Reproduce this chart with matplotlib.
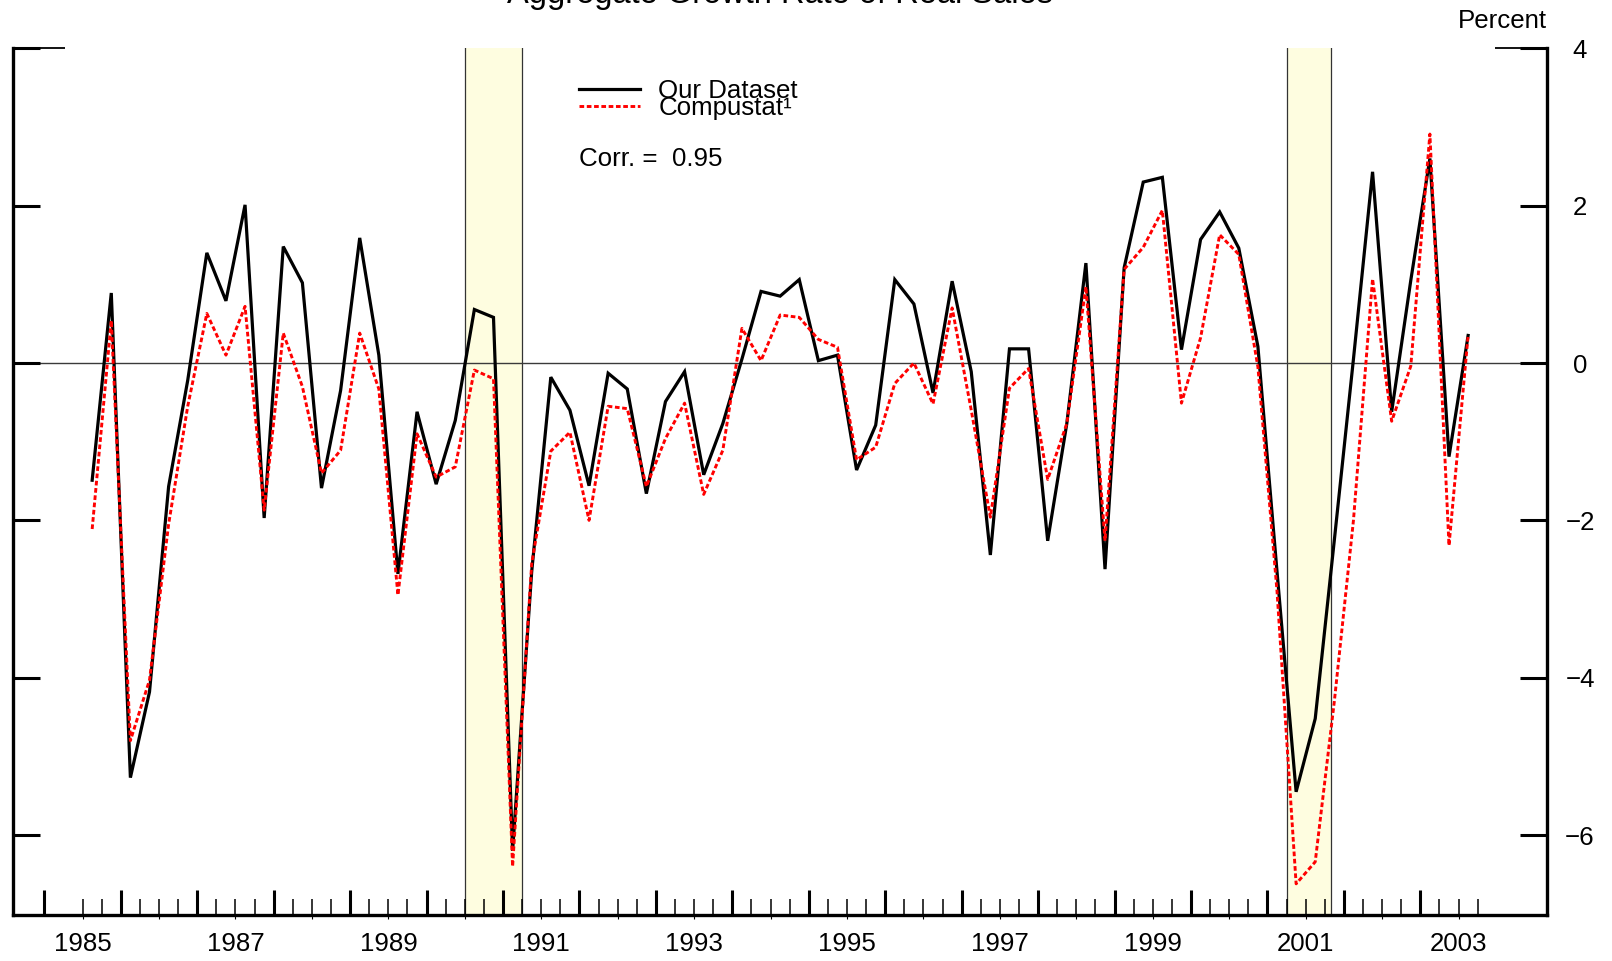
import matplotlib
matplotlib.use("Agg")
import matplotlib.pyplot as plt
from matplotlib.ticker import FixedLocator, FixedFormatter, NullFormatter
import numpy as np
import pandas as pd

plt.rcParams['font.family'] = ['Liberation Sans', 'DejaVu Sans']

# ---------------- data ----------------
start_quarter = "1985Q3"
our_dataset = [-1.49, 0.89, -5.27, -4.18, -1.57, -0.22, 1.40, 0.79, 2.01, -1.97,
               1.48, 1.02, -1.59, -0.35, 1.59, 0.10, -2.68, -0.62, -1.54, -0.73,
               0.68, 0.58, -6.20, -2.65, -0.18, -0.60, -1.56, -0.13, -0.33, -1.66,
               -0.49, -0.11, -1.42, -0.77, 0.05, 0.91, 0.85, 1.06, 0.03, 0.10,
               -1.36, -0.79, 1.06, 0.75, -0.38, 1.04, -0.11, -2.44, 0.18, 0.18,
               -2.26, -0.77, 1.27, -2.62, 1.21, 2.30, 2.36, 0.17, 1.57, 1.92,
               1.46, 0.21, -2.65, -5.45, -4.52, -2.25, 0.05, 2.43, -0.62, 1.05,
               2.60, -1.19, 0.35]
compustat = [-2.11, 0.54, -4.80, -4.03, -2.05, -0.55, 0.63, 0.10, 0.72, -1.87,
             0.38, -0.30, -1.40, -1.11, 0.38, -0.33, -2.95, -0.90, -1.45, -1.32,
             -0.09, -0.20, -6.40, -2.55, -1.12, -0.88, -2.00, -0.55, -0.58, -1.57,
             -0.96, -0.51, -1.67, -1.11, 0.44, 0.03, 0.61, 0.58, 0.30, 0.20,
             -1.23, -1.07, -0.26, 0.00, -0.52, 0.70, -0.60, -1.96, -0.32, -0.07,
             -1.48, -0.77, 0.97, -2.26, 1.19, 1.47, 1.94, -0.51, 0.32, 1.63,
             1.38, -0.05, -2.90, -6.62, -6.34, -4.30, -2.00, 1.07, -0.74, -0.04,
             2.91, -2.32, 0.35]
recession_start = [1990.5, 2001.25]
recession_end = [1991.25, 2001.83]
y_ticks = [-6, -4, -2, 0, 2, 4]
title = "Aggregate Growth Rate of Real Sales"
legend_labels = ["Our Dataset", "Compustat\u00b9"]
corr_text = "Corr. =  0.95"

periods = pd.period_range(start_quarter, periods=len(our_dataset), freq="Q")
x = np.array([p.year + (p.quarter - 0.5) / 4.0 for p in periods])

FS = 18.6

# ---------------- figure ----------------
W, H = 1612, 961
fig = plt.figure(figsize=(W / 100, H / 100), dpi=100)
L, R, T, B = 12.75, 1547.0, 48.3, 915.0
ax = fig.add_axes([L / W, 1 - B / H, (R - L) / W, (B - T) / H])
ax.set_xlim(1984.586, 2004.657)
ax.set_ylim(-7.016, 4.0)

for s, e in zip(recession_start, recession_end):
    ax.axvspan(s, e, facecolor='#FEFDE0', edgecolor='none', zorder=0)
    ax.axvline(s, color='#333333', lw=0.9, zorder=1)
    ax.axvline(e, color='#333333', lw=0.9, zorder=1)

ax.axhline(0, color='#3a3a3a', lw=1.0, zorder=1)

l1, = ax.plot(x, our_dataset, color='black', lw=2.3, zorder=3, solid_joinstyle='miter')
l2, = ax.plot(x, compustat, color='#FF0000', lw=2.1, linestyle=(0, (1.6, 0.9)), zorder=4)

# spines
for side in ['left', 'right', 'bottom']:
    ax.spines[side].set_linewidth(2.4)
ax.spines['top'].set_visible(False)

# x ticks
years = np.arange(1985, 2004)
quarters = [q for q in np.arange(1985.5, 2004.0, 0.25) if q % 1 != 0]
ax.xaxis.set_major_locator(FixedLocator(years))
ax.xaxis.set_minor_locator(FixedLocator(quarters))
ax.xaxis.set_major_formatter(NullFormatter())
ax.tick_params(axis='x', which='major', direction='in', length=18, width=2.2, bottom=True, top=False)
ax.tick_params(axis='x', which='minor', direction='in', length=11.5, width=1.1, bottom=True, top=False)

sec = ax.secondary_xaxis('bottom')
mids = np.arange(1985.5, 2004.0, 1.0)
sec.xaxis.set_major_locator(FixedLocator(mids))
sec.xaxis.set_major_formatter(FixedFormatter([str(int(m)) if int(m) % 2 == 1 else "" for m in mids]))
sec.tick_params(axis='x', which='major', direction='out', length=3, width=0.8, pad=9.5, labelsize=FS)
sec.spines['bottom'].set_visible(False)

# y ticks
ax.yaxis.set_major_locator(FixedLocator(y_ticks))
ax.yaxis.set_minor_locator(FixedLocator([4]))
ax.yaxis.remove_overlapping_locs = False
ax.yaxis.set_minor_formatter(NullFormatter())
ax.yaxis.set_major_formatter(FixedFormatter([f"{v}".replace('-', '\u2212') for v in y_ticks]))
ax.tick_params(axis='y', which='major', direction='in', length=19.4, width=2.2,
               left=True, right=True, labelleft=False, labelright=True, pad=23.8, labelsize=FS)
ax.tick_params(axis='y', which='minor', direction='in', length=37.4, width=1.3,
               left=True, right=True)
for lbl in ax.get_yticklabels():
    lbl.set_horizontalalignment('center')

# texts
fig.text(((L + R) / 2) / W, 1 - 3.5 / H, title, ha='center', va='baseline', fontsize=23.5)
fig.text(R / W, 1 - 27.5 / H, "Percent", ha='right', va='baseline', fontsize=FS)

leg = ax.legend([l1, l2], legend_labels, loc='upper left',
                bbox_to_anchor=((579 - L) / (R - L), 1 - (79.5 - T) / (B - T)),
                frameon=False, borderpad=0, borderaxespad=0, handlelength=2.37,
                handletextpad=0.7, labelspacing=-0.28, fontsize=FS)
ax.text((579 - L) / (R - L), (B - 158.5) / (B - T), corr_text, transform=ax.transAxes,
        ha='left', va='center', fontsize=FS)

fig.savefig("out.png", dpi=100)
